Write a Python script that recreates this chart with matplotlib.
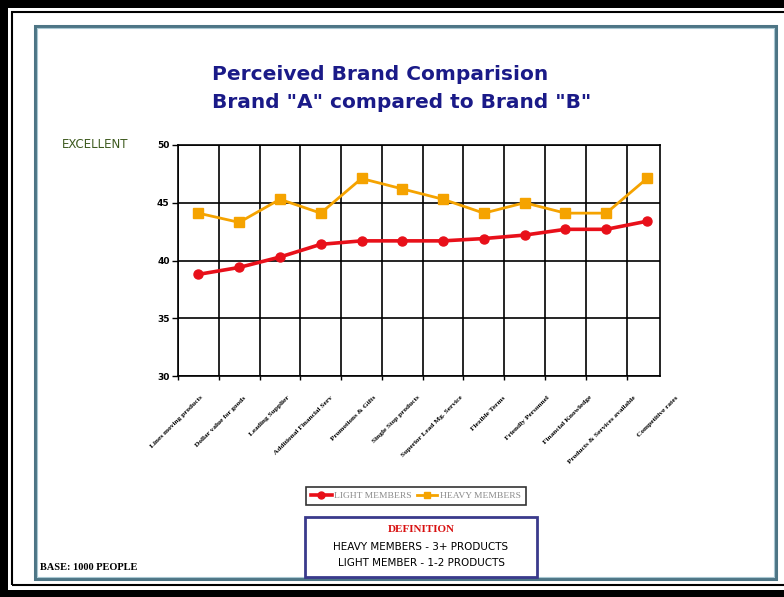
import numpy as np
import matplotlib
matplotlib.use("Agg")
import matplotlib.pyplot as plt
from matplotlib.patches import Rectangle
from matplotlib.lines import Line2D

categories = ["Lines moving products", "Dollar value for goods", "Leading Supplier",
              "Additional Financial Serv", "Promotions & Gifts", "Single Stop products",
              "Superior Lead Mg. Service", "Flexible Terms", "Friendly Personnel",
              "Financial Knowledge", "Products & Services available", "Competitive rates"]
light = [38.8, 39.4, 40.3, 41.4, 41.7, 41.7, 41.7, 41.9, 42.2, 42.7, 42.7, 43.4]
heavy = [44.1, 43.3, 45.3, 44.1, 47.1, 46.2, 45.3, 44.1, 45.0, 44.1, 44.1, 47.1]
yticks = [30, 35, 40, 45, 50]

W, H = 784, 597
fig = plt.figure(figsize=(W / 100, H / 100), dpi=100)
fig.patch.set_facecolor("white")


def px(x, y):
    return x / W, 1 - y / H


def rect(x0, y0, x1, y1, **kw):
    r = Rectangle(px(x0, y1), (x1 - x0) / W, (y1 - y0) / H, transform=fig.transFigure, **kw)
    fig.add_artist(r)


# outer frame
rect(0, 0, W, 8, color="black", lw=0)
rect(0, 0, 8, H, color="black", lw=0)
rect(0, 590, W, H, color="black", lw=0)
rect(12, 12, W + 5, 585, fill=False, ec="black", lw=1.5)
rect(35, 26, 776, 579, fill=False, ec="#4d7585", lw=2.2)
rect(37, 28, 774, 577, fill=False, ec="#a9c8d2", lw=0.8)

# plot area
x = np.arange(len(categories))
l, r, t, b = 178, 660, 145, 376
ax = fig.add_axes([l / W, 1 - b / H, (r - l) / W, (b - t) / H])
ax.plot(x, heavy, color="#f5a300", lw=2, marker="s", ms=7.5, mec="#f5a300", zorder=3)
ax.plot(x, light, color="#e8101a", lw=2.6, marker="o", ms=6.5, mec="#e8101a", zorder=3)
ax.set_ylim(30, 50)
ax.set_xlim(-0.5, 11.32)
ax.set_yticks(yticks)
ax.set_yticklabels([str(v) for v in yticks], fontsize=6.5, fontweight="bold")
for v in yticks:
    ax.axhline(v, color="black", lw=1.2, zorder=1)
for v in np.arange(-0.5, 11, 1):
    ax.axvline(v, color="black", lw=1.2, zorder=1)
ax.set_xticks(np.arange(-0.5, 11.5, 1))
ax.set_xticklabels([])
ax.tick_params(axis="x", length=3, width=1, direction="out")
ax.tick_params(axis="y", length=4, width=1, direction="out", pad=2)
for s in ax.spines.values():
    s.set_linewidth(1.2)
    s.set_color("black")

# rotated category labels
label_pos = x * 1.06 + 0.1
for p, c in zip(label_pos, categories):
    ax.text(p, -0.09, c, transform=ax.get_xaxis_transform(), rotation=45,
            ha="right", va="center", rotation_mode="anchor",
            fontsize=5.3, fontweight="bold", family="Liberation Serif")

# titles and texts
fig.text(*px(212, 75), "Perceived Brand Comparision", color="#1a1a88", fontsize=14.5,
         fontweight="heavy", va="center")
fig.text(*px(212, 103), 'Brand "A" compared to Brand "B"', color="#1a1a88", fontsize=14.5,
         fontweight="heavy", va="center")
fig.text(*px(62, 145), "EXCELLENT", color="#3d5a1e", fontsize=8.5, va="center")
fig.text(*px(40, 568), "BASE: 1000 PEOPLE", fontsize=7.5, fontweight="bold",
         family="Liberation Serif", va="center")

# legend
handles = [Line2D([], [], color="#e8101a", lw=2.6, marker="o", ms=5),
           Line2D([], [], color="#f5a300", lw=2, marker="s", ms=5)]
leg = fig.legend(handles, ["LIGHT MEMBERS", "HEAVY MEMBERS"], ncol=2,
                 loc="center", bbox_to_anchor=px(416, 496), frameon=True, fancybox=False,
                 prop={"family": "Liberation Serif", "size": 6.8}, handlelength=2.2,
                 columnspacing=0.5, handletextpad=0.3, borderpad=0.5, edgecolor="black")
leg.get_frame().set_linewidth(1.2)
for txt in leg.get_texts():
    txt.set_color("#8a8a8a")

# definition box
rect(305, 517, 537, 577, fill=False, ec="#3a3a8c", lw=2)
fig.text(*px(421, 530), "DEFINITION", color="#d81010", fontsize=8, fontweight="bold",
         family="Liberation Serif", ha="center", va="center")
fig.text(*px(421, 547), "HEAVY MEMBERS - 3+ PRODUCTS", fontsize=7.5, ha="center", va="center")
fig.text(*px(421, 563), "LIGHT MEMBER - 1-2 PRODUCTS", fontsize=7.5, ha="center", va="center")

fig.savefig("out.png", dpi=100)
